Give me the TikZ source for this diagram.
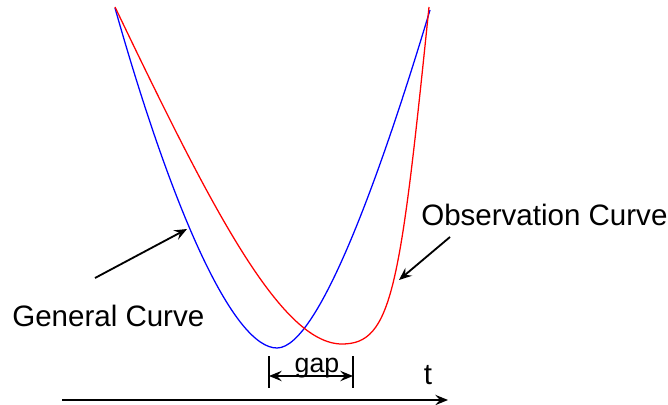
\documentclass[tikz,border=0pt]{standalone}
\usepackage{fontspec}
\setmainfont{Liberation Sans}
\usepackage{tikz}
\usetikzlibrary{arrows.meta, positioning, calc}
\tikzset{
  genline/.style={blue, line width=0.9pt},
  obsline/.style={red, line width=0.9pt},
  notearrow/.style={
    -{Stealth[length=3.2mm, width=2.6mm, inset=1.2mm]}, line width=1.3pt
  },
  notelabel/.style={
    font=\fontsize{21}{24}\selectfont, inner sep=0pt, anchor=base west
  },
  gaptick/.style={line width=1pt},
}

\begin{document}
\begin{tikzpicture}[x=0.025cm, y=-0.025cm]
  \useasboundingbox (0,0) rectangle (668,405);

  % Curves
  \draw[genline] (115,8) .. controls (175,220) and (235,348) .. (277,348)
    .. controls (320,348) and (385,160) .. (430,10);
  \draw[obsline] (115,7) .. controls (209,203) and (280,344) .. (342,344)
    .. controls (392,344) and (400,290) .. (429,7);

  % Annotations
  \node[notelabel] (gen) at (12,326) {General Curve};
  \node[notelabel] (obs) at (421,226) {Observation Curve};
  \coordinate (gentip) at (187,229);
  \coordinate (gentail) at (95,278);
  \coordinate (obstip) at (399,280);
  \coordinate (obstail) at (450,237);
  \draw[notearrow] (gentail) -- (gentip);
  \draw[notearrow] (obstail) -- (obstip);

  % Gap marker
  \coordinate (gapl) at (269,376);
  \coordinate (gapr) at (353,376);
  \draw[gaptick] ($(gapl)+(0,-20)$) -- ($(gapl)+(0,12)$);
  \draw[gaptick] ($(gapr)+(0,-20)$) -- ($(gapr)+(0,12)$);
  \draw[notearrow, {Stealth[length=3.2mm, width=2.6mm, inset=1.2mm]}-{Stealth[length=3.2mm, width=2.6mm, inset=1.2mm]}]
    (gapl) -- (gapr);
  \node[notelabel, anchor=base, font=\fontsize{19}{22}\selectfont] (gap) at (317,372) {gap};

  % Time axis
  \coordinate (axstart) at (62,400);
  \coordinate (axend) at (448,400);
  \draw[notearrow] (axstart) -- (axend);
  \node[notelabel, anchor=base] (t) at (428,384) {t};
\end{tikzpicture}
\end{document}
